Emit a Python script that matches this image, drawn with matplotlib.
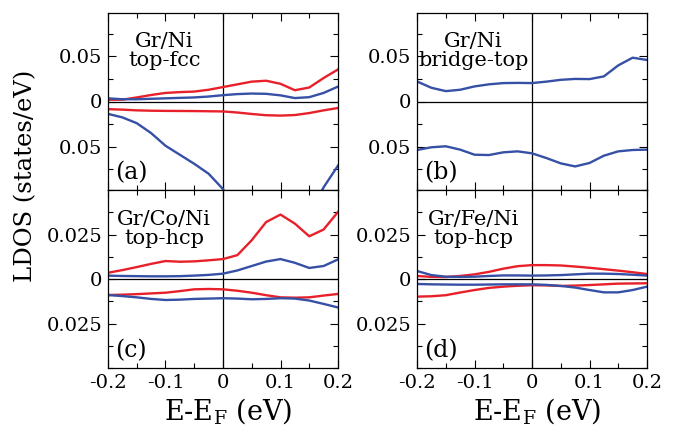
import numpy as np
import matplotlib
matplotlib.use("Agg")
import matplotlib.pyplot as plt
from matplotlib.ticker import MultipleLocator, FixedLocator, FuncFormatter

plt.rcParams['font.family'] = ['DejaVu Serif']
plt.rcParams['axes.unicode_minus'] = False
plt.rcParams['mathtext.fontset'] = 'dejavuserif'

# energy grid (eV), E - E_F
energy = [-0.2, -0.175, -0.15, -0.125, -0.1, -0.075, -0.05, -0.025, 0.0,
          0.025, 0.05, 0.075, 0.1, 0.125, 0.15, 0.175, 0.2]

# (a) Gr/Ni top-fcc
a_red_up = [0.0019, 0.002, 0.0045, 0.0072, 0.0095, 0.0104, 0.011, 0.013, 0.016,
            0.019, 0.022, 0.023, 0.0196, 0.0125, 0.0155, 0.026, 0.0355]
a_blue_up = [0.0035, 0.0025, 0.0025, 0.003, 0.0035, 0.004, 0.0045, 0.0055, 0.007,
             0.0082, 0.0088, 0.0085, 0.0068, 0.0038, 0.0048, 0.0095, 0.0165]
a_red_dn = [-0.0085, -0.009, -0.0098, -0.0102, -0.0104, -0.0105, -0.0106, -0.0108, -0.011,
            -0.0122, -0.0138, -0.0152, -0.0156, -0.015, -0.0128, -0.0098, -0.0072]
a_blue_dn = [-0.0137, -0.0176, -0.024, -0.035, -0.049, -0.059, -0.069, -0.080, -0.097,
             -0.125, -0.15, -0.165, -0.165, -0.15, -0.125, -0.095, -0.071]

# (b) Gr/Ni bridge-top
b_blue_up = [0.0222, 0.0152, 0.0115, 0.013, 0.0167, 0.019, 0.0204, 0.0206, 0.0204,
             0.022, 0.024, 0.025, 0.0248, 0.0278, 0.04, 0.0485, 0.046]
b_blue_dn = [-0.0537, -0.0507, -0.0496, -0.0533, -0.0589, -0.0593, -0.0563, -0.0552, -0.0574,
             -0.0626, -0.0685, -0.0719, -0.0681, -0.06, -0.0552, -0.0537, -0.0533]

# (c) Gr/Co/Ni top-hcp
c_red_up = [0.0035, 0.005, 0.0067, 0.0085, 0.0101, 0.0097, 0.0099, 0.0105, 0.0112,
            0.0134, 0.0218, 0.032, 0.0362, 0.0311, 0.024, 0.0278, 0.0377]
c_blue_up = [0.0019, 0.0017, 0.0016, 0.0015, 0.0015, 0.0016, 0.0019, 0.0023, 0.003,
             0.0048, 0.0073, 0.0098, 0.0112, 0.0091, 0.0062, 0.0073, 0.011]
c_red_dn = [-0.009, -0.0088, -0.0085, -0.0081, -0.0077, -0.0068, -0.0058, -0.0056, -0.0058,
            -0.0066, -0.0077, -0.0091, -0.0103, -0.0105, -0.0103, -0.0093, -0.0084]
c_blue_dn = [-0.009, -0.0096, -0.0103, -0.0112, -0.0118, -0.0116, -0.0112, -0.011, -0.0108,
             -0.011, -0.0114, -0.0112, -0.0108, -0.011, -0.0121, -0.014, -0.016]

# (d) Gr/Fe/Ni top-hcp
d_red_up = [0.0017, 0.0012, 0.0011, 0.0017, 0.0026, 0.004, 0.0058, 0.0072, 0.0078,
            0.0078, 0.0076, 0.007, 0.0063, 0.0055, 0.0047, 0.0038, 0.0028]
d_blue_up = [0.0045, 0.0022, 0.0013, 0.0012, 0.0013, 0.0017, 0.002, 0.002, 0.0019,
             0.002, 0.0022, 0.0026, 0.003, 0.003, 0.0028, 0.0024, 0.0019]
d_red_dn = [-0.0099, -0.0097, -0.0091, -0.0076, -0.0062, -0.005, -0.0043, -0.0038, -0.0035,
            -0.0036, -0.0039, -0.0037, -0.0034, -0.003, -0.0026, -0.0025, -0.0024]
d_blue_dn = [-0.0028, -0.003, -0.0031, -0.0032, -0.0032, -0.0031, -0.003, -0.003, -0.003,
             -0.0033, -0.0039, -0.0048, -0.0062, -0.0075, -0.0075, -0.0062, -0.0043]

labels = ["Gr/Ni\ntop-fcc", "Gr/Ni\nbridge-top", "Gr/Co/Ni\ntop-hcp", "Gr/Fe/Ni\ntop-hcp"]
tags = ["(a)", "(b)", "(c)", "(d)"]

RED = '#e8202a'
BLUE = '#3550a5'

fig = plt.figure(figsize=(6.81, 4.29), dpi=100)
W, H = 681, 429


def make_ax(x0, y0, x1, y1):
    return fig.add_axes([x0 / W, 1 - y1 / H, (x1 - x0) / W, (y1 - y0) / H])


ax_a = make_ax(108, 13, 338, 190)
ax_b = make_ax(417, 13, 647, 190)
ax_c = make_ax(108, 190, 338, 368)
ax_d = make_ax(417, 190, 647, 368)

fmt_abs = FuncFormatter(lambda v, p: '0' if abs(v) < 1e-9 else f'{abs(v):g}')

panels = [
    (ax_a, [(a_red_up, RED), (a_blue_up, BLUE), (a_red_dn, RED), (a_blue_dn, BLUE)], 0.098, 0.05),
    (ax_b, [(b_blue_up, BLUE), (b_blue_dn, BLUE)], 0.098, 0.05),
    (ax_c, [(c_red_up, RED), (c_blue_up, BLUE), (c_red_dn, RED), (c_blue_dn, BLUE)], 0.05, 0.025),
    (ax_d, [(d_red_up, RED), (d_blue_up, BLUE), (d_red_dn, RED), (d_blue_dn, BLUE)], 0.05, 0.025),
]

for i, (ax, series, ylim, major) in enumerate(panels):
    ax.axhline(0, color='black', lw=0.9, zorder=1)
    ax.axvline(0, color='black', lw=0.9, zorder=1)
    for vals, col in series:
        ax.plot(energy, vals, color=col, lw=1.7, zorder=2, solid_joinstyle='round')
    ax.set_xlim(-0.2, 0.2)
    ax.set_ylim(-ylim, ylim)
    ax.xaxis.set_major_locator(MultipleLocator(0.1))
    ax.xaxis.set_minor_locator(MultipleLocator(0.05))
    ax.yaxis.set_major_locator(FixedLocator([-major, 0, major]))
    ax.yaxis.set_minor_locator(MultipleLocator(major / 2))
    ax.yaxis.set_major_formatter(fmt_abs)
    ax.xaxis.set_major_formatter(FuncFormatter(lambda v, p: '0' if abs(v) < 1e-9 else f'{v:g}'))
    ax.tick_params(which='both', direction='in', top=True, right=True, labelsize=14, width=0.8)
    ax.tick_params(which='major', length=6, pad=4)
    ax.tick_params(which='minor', length=3.5)
    for sp in ax.spines.values():
        sp.set_linewidth(0.9)
    if i < 2:
        ax.tick_params(labelbottom=False)
    ax.text(0.245, 0.89, labels[i], transform=ax.transAxes, ha='center', va='top',
            fontsize=15, linespacing=1.0)
    ax.text(0.03, 0.035, tags[i], transform=ax.transAxes, ha='left', va='bottom', fontsize=17)

fig.text(26 / W, 1 - 176 / H, 'LDOS (states/eV)', rotation=90, ha='center', va='center', fontsize=17.5)
for xc in (228, 537):
    fig.text(xc / W, 1 - 411 / H, r'E-E$_{\mathrm{F}}$ (eV)', ha='center', va='center', fontsize=19.5)

fig.savefig('out.png', dpi=100)
